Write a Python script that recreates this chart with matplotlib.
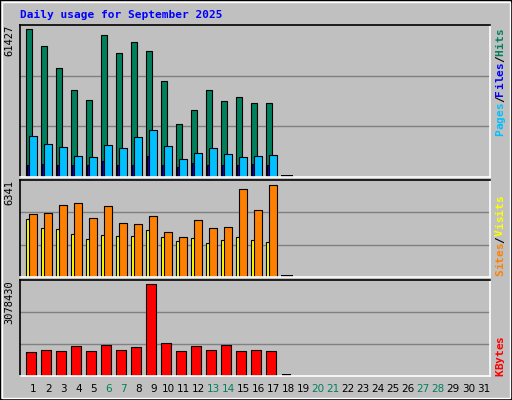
import numpy as np
import matplotlib.pyplot as plt
from matplotlib.patches import Rectangle

days = np.arange(1, 32)
n_data = 18  # day 18 drawn as zero

hits = [61427, 54360, 45210, 36060, 31900, 58930, 51450, 56020, 52280, 39800,
        21920, 27740, 36060, 31480, 33150, 30650, 30650, 0]
files = [4850, 5280, 4990, 4850, 4850, 6650, 4850, 4850, 8730, 4850,
         4280, 5950, 4990, 4990, 4850, 5530, 4850, 0]
pages = [16930, 13600, 12350, 8610, 8190, 13180, 11940, 16510, 19420, 12770,
         7360, 9860, 11940, 9440, 8190, 8610, 9030, 0]
visits = [4307, 4376, 4926, 5063, 4033, 4857, 3689, 3620, 4170, 3071,
          2727, 3895, 3346, 3414, 6025, 4582, 6341, 0]
sites = [3964, 3346, 3277, 2933, 2590, 2865, 2796, 2796, 3208, 2727,
         2453, 2659, 2315, 2521, 2727, 2521, 2384, 0]
kbytes = [819300, 886700, 853000, 1021600, 853000, 1055300, 886700, 987900, 3078430, 1122700,
          853000, 1021600, 886700, 1055300, 853000, 886700, 853000, 0]
weekends = [6, 7, 13, 14, 20, 21, 27, 28]

BG = '#C0C0C0'
W, H = 512, 400
fig = plt.figure(figsize=(W / 100, H / 100), dpi=100, facecolor=BG)

# outer bevel
fig.patches.append(Rectangle((0, 0), 1, 1, transform=fig.transFigure, fill=False,
                             edgecolor='black', lw=1.5))
fig.patches.append(Rectangle((2 / W, 2 / H), 1 - 4 / W, 1 - 4 / H, transform=fig.transFigure,
                             fill=False, edgecolor='white', lw=1))

fig.text(20 / W, 1 - 15 / H, 'Daily usage for September 2025', color='#0000FF',
         family='DejaVu Sans Mono', weight='bold', fontsize=8, va='center')

x0, x1 = 20, 490
xlim = (1 + (x0 - 33.3) / 15, 1 + (x1 - 33.3) / 15)


def make_ax(top, bottom):
    ax = fig.add_axes([x0 / W, 1 - bottom / H, (x1 - x0) / W, (bottom - top) / H])
    ax.set_facecolor(BG)
    ax.set_xlim(*xlim)
    ax.set_xticks([])
    ax.set_yticks([])
    for s in ['top', 'left']:
        ax.spines[s].set_color('black')
    for s in ['bottom', 'right']:
        ax.spines[s].set_color('white')
    for s in ax.spines.values():
        s.set_linewidth(1.2)
    return ax


def grid(ax, ymax):
    for f in (1 / 3, 2 / 3):
        ax.axhline(ymax * f, color='#808080', lw=1, zorder=0)


x = np.arange(1, n_data + 1)
ekw = dict(edgecolor='black', linewidth=0.8, align='edge')

# top panel
ax1 = make_ax(25, 177)
ymax1 = 61427 * 152 / 148
ax1.set_ylim(0, ymax1)
grid(ax1, ymax1)
ax1.bar(x - 0.507, hits, 0.44, color='#00805C', **ekw)
ax1.bar(x - 0.42, files, 0.2, color='#0000FF', **ekw)
ax1.bar(x - 0.267, pages, 0.49, color='#00C0FF', **ekw)
ax1.bar([18 - 0.47], [ymax1 * 0.012], 0.75, color='black', align='edge')

# middle panel
ax2 = make_ax(180, 277)
ymax2 = 6341 * 97 / 92.4
ax2.set_ylim(0, ymax2)
grid(ax2, ymax2)
ax2.bar(x - 0.507, sites, 0.3, color='#FFFF00', **ekw)
ax2.bar(x - 0.267, visits, 0.49, color='#FF8000', **ekw)
ax2.bar([18 - 0.47], [ymax2 * 0.02], 0.75, color='black', align='edge')

# bottom panel
ax3 = make_ax(280, 376)
ymax3 = 3078430 * 95.7 / 91.3
ax3.set_ylim(0, ymax3)
grid(ax3, ymax3)
ax3.bar(x - 0.467, kbytes, 0.667, color='#FF0000', **ekw)
ax3.bar([18 - 0.4], [ymax3 * 0.02], 0.6, color='black', align='edge')

# max labels on the left
for ax, lbl in [(ax1, '61427'), (ax2, '6341'), (ax3, '3078430')]:
    ax.text(-0.012, 1.0, lbl, transform=ax.transAxes, rotation=90, ha='right', va='top',
            family='DejaVu Sans Mono', fontsize=7.5)


# right legends, built char-by-char from a bottom pixel position upward
def legend(bottom_px, parts, step=6.7):
    y = bottom_px
    for txt, col in parts:
        for ch in txt:
            fig.text(500 / W, 1 - y / H, ch, rotation=90, ha='center', va='bottom',
                     family='DejaVu Sans Mono', weight='bold', fontsize=8, color=col)
            y -= step


legend(136, [('Pages', '#00C0FF'), ('/', 'black'), ('Files', '#0000FF'),
             ('/', 'black'), ('Hits', '#00805C')])
legend(276, [('Sites', '#FF8000'), ('/', 'black'), ('Visits', '#FFFF00')])
legend(376, [('KBytes', '#FF0000')])

# day labels
for d in days:
    col = '#00805C' if d in weekends else 'black'
    ax3.text(d, -ymax3 * 0.14, str(d), ha='center', va='center', fontsize=7.5,
             color=col, family='DejaVu Sans')

fig.savefig('out.png', dpi=100, facecolor=BG)
